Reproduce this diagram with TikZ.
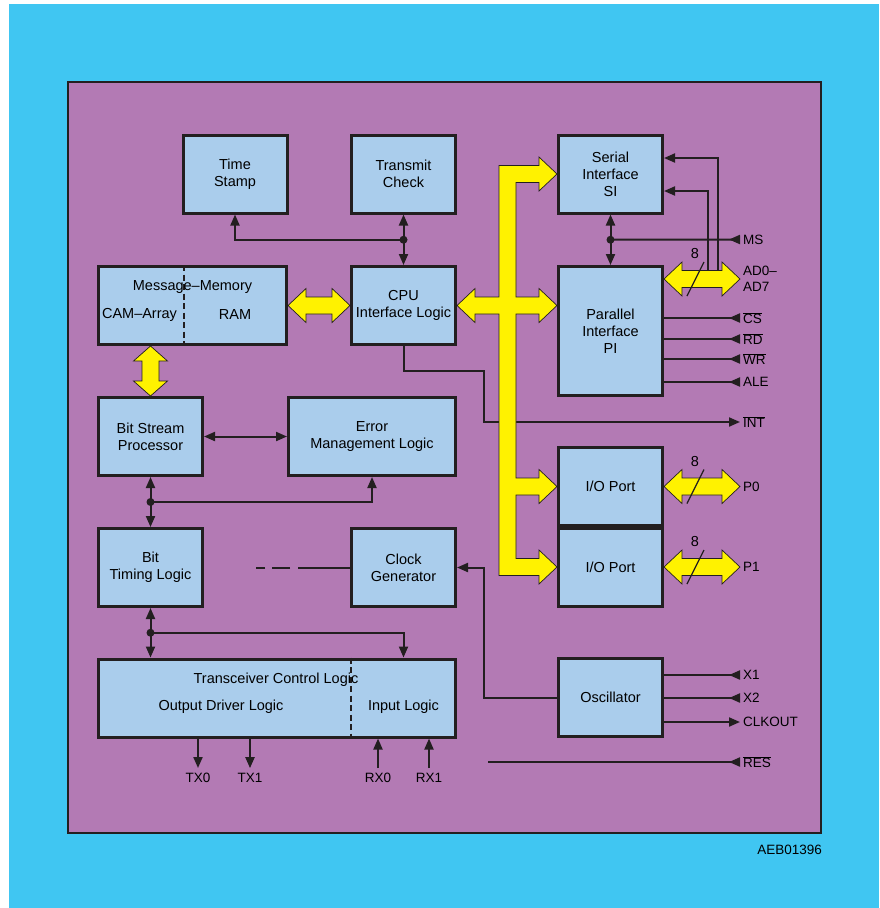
\documentclass[tikz,border=0pt]{standalone}
\usepackage{fontspec}
\setmainfont{Liberation Sans}
\usetikzlibrary{arrows.meta,calc}

\definecolor{fondbleu}{RGB}{64,198,242}
\definecolor{fondviolet}{RGB}{179,122,180}
\definecolor{blocbleu}{RGB}{170,205,236}
\definecolor{busjaune}{RGB}{255,242,0}
\definecolor{trait}{RGB}{35,31,32}

\newcommand{\police}{\fontsize{14.5}{17}\selectfont}
\newcommand{\policeb}{\fontsize{13.5}{16}\selectfont}

% Bus jaune horizontal a double fleche
\newcommand{\busdouble}[2]{%
  \draw[bus] (#1) -- ($(#1)+(18,-17)$) -- ($(#1)+(18,-8.5)$) -- ($(#2)+(-18,-8.5)$)
    -- ($(#2)+(-18,-17)$) -- (#2) -- ($(#2)+(-18,17)$) -- ($(#2)+(-18,8.5)$)
    -- ($(#1)+(18,8.5)$) -- ($(#1)+(18,17)$) -- cycle;}
% Bus jaune vertical a double fleche
\newcommand{\busvert}[2]{%
  \draw[bus] (#1) -- ($(#1)+(17,15)$) -- ($(#1)+(8.5,15)$) -- ($(#2)+(8.5,-15)$)
    -- ($(#2)+(17,-15)$) -- (#2) -- ($(#2)+(-17,-15)$) -- ($(#2)+(-8.5,-15)$)
    -- ($(#1)+(-8.5,15)$) -- ($(#1)+(-17,15)$) -- cycle;}

\begin{document}
\begin{tikzpicture}[x=1pt,y=-1pt,
    bloc/.style={draw=trait, fill=blocbleu, line width=3pt, minimum width=104,
      minimum height=78, align=center, font=\police, inner sep=1pt},
    texte/.style={font=\police, inner sep=1pt},
    etiq/.style={font=\policeb, anchor=west, inner xsep=3pt, inner ysep=1pt, align=left},
    etiqb/.style={font=\policeb, inner xsep=1pt, inner ysep=5pt},
    fleche/.style={draw=trait, line width=2pt, -{Triangle[length=11pt,width=9pt]}},
    fleches/.style={draw=trait, line width=2pt, {Triangle[length=11pt,width=9pt]}-{Triangle[length=11pt,width=9pt]}},
    entree/.style={draw=trait, line width=2pt, -{Triangle[length=11pt,width=9pt,reversed]}},
    ligne/.style={draw=trait, line width=2pt},
    tiret/.style={draw=trait, line width=2pt, dash pattern=on 6pt off 3.5pt},
    bus/.style={fill=busjaune, draw=trait, line width=0.7pt, line join=miter},
    point/.style={fill=trait}]

    % Fond et cadre
    \useasboundingbox (0,0) rectangle (879,908);
    \fill[white] (0,0) rectangle (879,908);
    \fill[fondbleu] (9,4) rectangle (879,908);
    \filldraw[fill=fondviolet, draw=trait, line width=1.8pt] (68,82) rectangle (821,833);
    \node[font=\policeb, anchor=east, inner sep=0pt] (ref) at (822,850) {AEB01396};

    % Blocs
    \node[bloc] (ts) at (235,174) {Time\\Stamp};
    \node[bloc] (tc) at (403.5,174) {Transmit\\Check};
    \node[bloc, minimum width=188] (mm) at (192.5,305.5) {};
    \node[bloc] (cpu) at (403.5,305.5) {CPU\\Interface Logic};
    \node[bloc] (bsp) at (150.5,436.5) {Bit Stream\\Processor};
    \node[bloc, minimum width=167] (eml) at (372,436.5) {Error\\Management Logic};
    \node[bloc] (btl) at (150.5,567.5) {Bit\\Timing Logic};
    \node[bloc] (cg) at (403.5,567.5) {Clock\\Generator};
    \node[bloc, minimum width=357] (tcl) at (277,698) {};
    \node[bloc] (si) at (610.5,174) {Serial\\Interface\\SI};
    \node[bloc, minimum height=129] (pi) at (610.5,331) {Parallel\\Interface\\PI};
    \node[bloc] (io0) at (610.5,486.5) {I/O Port};
    \node[bloc] (io1) at (610.5,567) {I/O Port};
    \node[bloc] (osc) at (610.5,697.5) {Oscillator};

    % Separations et textes des blocs composes
    \draw[tiret] ($(mm.north west)+(87,0)$) -- ($(mm.south west)+(87,0)$);
    \node[texte] (mmtitre) at (192.5,287) {Message--Memory};
    \node[texte] (cam) at (139.5,315) {CAM--Array};
    \node[texte] (ram) at (235,315) {RAM};
    \draw[tiret] ($(tcl.north west)+(254,0)$) -- ($(tcl.south west)+(254,0)$);
    \node[texte] (tcltitre) at (276,680) {Transceiver Control Logic};
    \node[texte] (outlog) at (221,707) {Output Driver Logic};
    \node[texte] (inlog) at (403.5,707) {Input Logic};

    % Noeuds de jonction
    \coordinate (jtc) at ($(tc.south)!0.5!(cpu.north)$);
    \coordinate (jsp) at ($(si.south)!0.5!(pi.north)$);
    \coordinate (jbsp) at ($(bsp.south)!0.5!(btl.north)$);
    \coordinate (jbtl) at ($(btl.south)!0.5!(btl.south |- tcl.north)$);

    % Etiquettes des broches
    \node[etiq] (ms) at (740,239.5) {MS};
    \node[etiq] (ad) at (740,279) {AD0--\\AD7};
    \node[etiq] (int) at (740,422) {$\overline{\mbox{INT}}$};
    \node[etiq] (p0) at (740,486.5) {P0};
    \node[etiq] (p1) at (740,567) {P1};
    \node[etiq] (x1) at (740,675) {X1};
    \node[etiq] (x2) at (740,698) {X2};
    \node[etiq] (clk) at (740,722) {CLKOUT};
    \node[etiq] (res) at (740,762) {$\overline{\mbox{RES}}$};
    \coordinate (resdeb) at (488,762);
    \coordinate (ad1) at (pi.east |- ad.west);

    % Liaisons partie gauche
    \draw[fleche] (jtc) -- (tc.south);
    \draw[fleche] (jtc) -- (cpu.north);
    \draw[fleche] (jtc) -| (ts.south);
    \draw[fleches] (bsp.east) -- (eml.west);
    \draw[fleche] (jbsp) -- (bsp.south);
    \draw[fleche] (jbsp) -- (btl.north);
    \draw[fleche] (jbsp) -| (eml.south);
    \draw[fleche] (jbtl) -- (btl.south);
    \draw[fleche] (jbtl) -- (btl.south |- tcl.north);
    \draw[fleche] (jbtl) -| (inlog |- tcl.north);
    \draw[ligne] (cg.west) -- ++(-52,0);
    \draw[ligne] ($(cg.west)+(-60,0)$) -- ++(-18,0);
    \draw[ligne] ($(cg.west)+(-85,0)$) -- ++(-9,0);
    \draw[fleche] (osc.west) -| (484,567.5) -- (cg.east);
    \draw[fleche] (cpu.south) |- (484,371) |- (int.west);
    \foreach \point in {jtc,jsp,jbsp,jbtl}
        \fill[point] (\point) circle[radius=4pt];

    % Sorties et entrees de l'emetteur-recepteur
    \foreach \nom/\x/\txt in {tx0/198/TX0, tx1/250/TX1} {
        \node[etiqb] (\nom) at (\x,778) {\txt};
        \draw[fleche] (\nom |- tcl.south) -- (\nom.north);}
    \foreach \nom/\x/\txt in {rx0/378/RX0, rx1/429/RX1} {
        \node[etiqb] (\nom) at (\x,778) {\txt};
        \draw[fleche] (\nom.north) -- (\nom |- tcl.south);}

    % Liaisons partie droite
    \draw[fleche] (jsp) -- (si.south);
    \draw[fleche] (jsp) -- (pi.north);
    \draw[entree] (jsp) -- (ms.west);
    \draw[fleche] ($(ad1)+(54,-8.5)$) |- ($(si.east)+(0,-16)$);
    \draw[fleche] ($(ad1)+(44,-8.5)$) |- ($(si.east)+(0,17)$);
    \foreach \nom/\y/\txt in {cs/318/{$\overline{\mbox{CS}}$}, rd/339/{$\overline{\mbox{RD}}$},
                              wr/359/{$\overline{\mbox{WR}}$}, ale/382/ALE} {
        \node[etiq] (\nom) at (740,\y) {\txt};
        \draw[entree] (pi.east |- \nom.west) -- (\nom.west);}
    \draw[entree] (osc.east |- x1.west) -- (x1.west);
    \draw[entree] (osc.east |- x2.west) -- (x2.west);
    \draw[fleche] (osc.east |- clk.west) -- (clk.west);
    \draw[entree] (resdeb) -- (res.west);

    % Bus jaunes
    \coordinate (mmbas) at (bsp.north |- mm.south);
    \coordinate (pig) at (pi.west |- cpu.east);
    \busdouble{mm.east}{cpu.west}
    \busvert{mmbas}{bsp.north}
    \busdouble{ad1}{ad.west}
    \busdouble{io0.east}{p0.west}
    \busdouble{io1.east}{p1.west}
    \draw[bus] ($(si.west)+(-58,-8.5)$) -- ($(si.west)+(-18,-8.5)$) -- ($(si.west)+(-18,-17)$)
        -- (si.west) -- ($(si.west)+(-18,17)$) -- ($(si.west)+(-18,8.5)$) -- ($(si.west)+(-41,8.5)$)
        -- ($(pig)+(-41,-8.5)$) -- ($(pig)+(-18,-8.5)$) -- ($(pig)+(-18,-17)$) -- (pig)
        -- ($(pig)+(-18,17)$) -- ($(pig)+(-18,8.5)$) -- ($(pig)+(-41,8.5)$)
        -- ($(io0.west)+(-41,-8.5)$) -- ($(io0.west)+(-18,-8.5)$) -- ($(io0.west)+(-18,-17)$)
        -- (io0.west) -- ($(io0.west)+(-18,17)$) -- ($(io0.west)+(-18,8.5)$) -- ($(io0.west)+(-41,8.5)$)
        -- ($(io1.west)+(-41,-8.5)$) -- ($(io1.west)+(-18,-8.5)$) -- ($(io1.west)+(-18,-17)$)
        -- (io1.west) -- ($(io1.west)+(-18,17)$) -- ($(io1.west)+(-18,8.5)$) -- ($(io1.west)+(-58,8.5)$)
        -- ($(pig)+(-58,8.5)$) -- ($(cpu.east)+(18,8.5)$) -- ($(cpu.east)+(18,17)$) -- (cpu.east)
        -- ($(cpu.east)+(18,-17)$) -- ($(cpu.east)+(18,-8.5)$) -- ($(pig)+(-58,-8.5)$) -- cycle;

    % Largeur 8 bits
    \foreach \bout/\nom in {ad1/n8a, io0.east/n8b, io1.east/n8c} {
        \draw[trait, line width=1.2pt] ($(\bout)+(23,17)$) -- ($(\bout)+(40,-17)$);
        \node[texte] (\nom) at ($(\bout)+(31,-25)$) {8};}
\end{tikzpicture}
\end{document}
